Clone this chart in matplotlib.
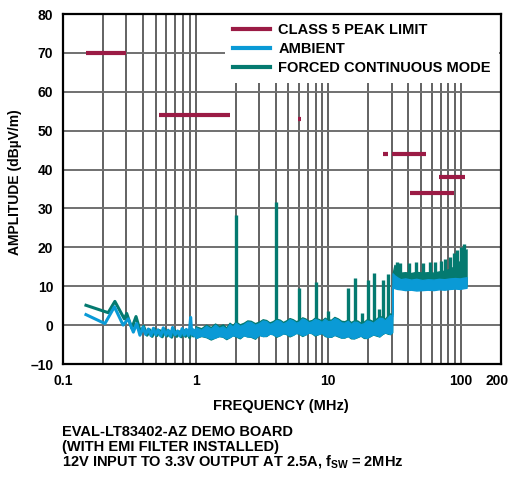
import matplotlib.pyplot as plt
from matplotlib.lines import Line2D
from matplotlib.transforms import ScaledTranslation

plt.rcParams['font.family'] = ['Liberation Sans', 'DejaVu Sans']
plt.rcParams['font.weight'] = 'bold'
plt.rcParams['mathtext.fontset'] = 'custom'
plt.rcParams['mathtext.rm'] = 'Liberation Sans:bold'
plt.rcParams['mathtext.it'] = 'Liberation Sans:bold'
plt.rcParams['mathtext.bf'] = 'Liberation Sans:bold'

LIMIT_COLOR = '#9b1b45'
AMB_COLOR = '#0a9ad6'
FRC_COLOR = '#047a70'
FS = 10.5

# class 5 peak limit segments (MHz, dBuV/m)
limit_start = [0.15, 0.53, 5.9, 26, 30, 41, 68]
limit_stop = [0.30, 1.8, 6.2, 28, 54, 88, 108]
limit_level = [70, 54, 53, 44, 44, 34, 38]

# low frequency sweep, ambient
amb_low_f = [0.149, 0.207, 0.244, 0.284, 0.310, 0.339, 0.359, 0.380, 0.402, 0.42, 0.44, 0.46,
             0.48, 0.50, 0.52, 0.545, 0.57, 0.595, 0.62, 0.645, 0.67, 0.70, 0.73, 0.76, 0.79,
             0.82, 0.85, 0.88, 0.90, 0.916, 0.935, 0.96, 0.985, 1.0]
amb_low_v = [2.7, 0.4, 4.7, 0.0, 1.6, -1.8, 0.4, -2.6, -0.5, -2.4, -1.0, -2.7,
             -0.8, -2.5, -1.2, -2.8, -0.7, -2.6, -1.3, -2.9, -0.6, -2.5, -1.5, -2.8, -0.9,
             -2.6, -1.1, -2.7, -1.0, 2.0, -2.4, -1.2, -2.8, -1.5]

# low frequency sweep, forced continuous mode
frc_low_f = [0.149, 0.219, 0.246, 0.290, 0.302, 0.330, 0.355, 0.385, 0.405, 0.43, 0.45, 0.47,
             0.49, 0.51, 0.535, 0.56, 0.585, 0.61, 0.635, 0.66, 0.69, 0.72, 0.75, 0.78, 0.81,
             0.84, 0.87, 0.90, 0.93, 0.96, 1.0]
frc_low_v = [5.1, 3.2, 6.1, 1.6, 3.0, -0.8, 2.2, -2.0, -0.3, -2.6, -1.2, -2.9,
             -1.0, -2.7, -1.4, -3.0, -1.1, -2.8, -1.6, -3.1, -1.2, -2.9, -1.7, -3.0, -1.3,
             -2.9, -1.5, -3.2, -1.6, -2.8, -1.8]

# 1 MHz to 110 MHz noise floor envelopes
band_f = [1.0, 1.1, 1.2, 1.3, 1.4, 1.5, 1.6, 1.7, 1.8, 1.9, 2.0, 2.15, 2.3, 2.45, 2.6, 2.8, 3.0,
          3.2, 3.4, 3.6, 3.8, 4.05, 4.3, 4.55, 4.8, 5.1, 5.4, 5.7, 6.0, 6.35, 6.7, 7.1, 7.5,
          7.9, 8.4, 8.9, 9.4, 9.9, 10.5, 11.1, 11.8, 12.5, 13.2, 14.0, 14.8, 15.6, 16.5,
          17.5, 18.5, 19.5, 20.5, 21.7, 23.0, 24.2, 25.5, 26.7, 28.0, 29.1, 30.2,
          30.5, 31.5, 33, 35, 38, 42, 46, 51, 56, 62, 68, 75, 82, 90, 98, 105, 110]
amb_top = [-0.6, -1.2, -0.2, -0.9, 0.1, -0.7, -0.3, -1.0, 0.3, -0.4, 0.6, -0.2, 0.2, 0.9, 0.8, 0.1, 0.5,
           1.2, 1.0, 0.3, 0.6, 1.3, 1.1, 0.4, 0.8, 1.5, 1.2, 0.6, 0.9, 1.7, 1.4, 0.7, 1.0,
           1.6, 1.3, 0.8, 1.6, 1.0, 1.1, 1.8, 1.4, 0.7, 0.6, 1.1, 0.3, 0.9, 0.8,
           0.2, 0.5, 1.2, 1.0, 0.6, 1.3, 1.9, 1.8, 1.2, 2.0, 2.6, 2.3,
           13.3, 12.8, 12.3, 11.8, 12.0, 11.7, 11.9, 11.6, 11.8, 11.7, 11.9, 11.8, 12.0, 12.1, 12.0, 12.2, 12.3]
amb_bot = [-3.3, -2.7, -3.0, -3.5, -3.2, -2.8, -2.9, -3.4, -3.1, -2.6, -2.8, -3.2, -2.6, -2.9, -2.9, -3.3, -2.5,
           -2.8, -2.7, -2.2, -2.3, -2.8, -2.6, -2.1, -2.2, -2.7, -2.5, -2.0, -2.1, -2.6, -2.4, -1.9, -2.0,
           -2.5, -2.3, -2.0, -2.6, -3.0, -2.9, -2.5, -2.7, -3.2, -3.1, -2.8, -3.2, -3.4, -3.0,
           -2.7, -3.1, -3.3, -2.8, -2.4, -2.5, -2.9, -2.2, -1.9, -2.0, -2.3, -1.8,
           9.8, 9.5, 9.3, 9.2, 9.0, 9.1, 8.9, 9.0, 9.1, 9.0, 9.2, 9.1, 9.3, 9.4, 9.3, 9.5, 9.6]
frc_top = [-0.3, -0.8, 0.1, -0.5, 0.4, -0.3, 0.2, -0.6, 0.6, 0.0, 0.9, 0.2, 0.6, 1.2, 1.1, 0.5, 0.9,
           1.5, 1.3, 0.7, 1.0, 1.6, 1.4, 0.8, 1.2, 1.8, 1.5, 1.0, 1.3, 2.0, 1.7, 1.1, 1.3,
           1.9, 1.6, 1.2, 1.9, 1.4, 1.4, 2.1, 1.7, 1.1, 1.0, 1.4, 0.8, 1.2, 1.2,
           0.6, 0.9, 1.5, 1.4, 1.0, 1.7, 2.3, 2.2, 1.6, 2.5, 3.0, 2.8,
           13.3, 15.5, 14.0, 13.5, 13.6, 13.4, 13.7, 13.5, 13.6, 13.5, 13.8, 14.0, 14.5, 15.2, 16.5, 18.0, 19.5]
frc_bot = [-3.3, -2.8, -3.1, -3.7, -3.2, -2.8, -3.0, -3.6, -3.1, -2.6, -2.9, -3.4, -2.6, -2.9, -3.0, -3.5, -2.5,
           -2.8, -2.8, -2.2, -2.3, -3.0, -2.6, -2.1, -2.3, -2.9, -2.5, -2.0, -2.2, -2.8, -2.4, -1.9, -2.1,
           -2.7, -2.3, -2.0, -2.8, -3.0, -3.0, -2.5, -2.9, -3.2, -3.2, -2.8, -3.4, -3.4, -3.1,
           -2.7, -3.3, -3.3, -2.9, -2.4, -2.7, -2.9, -2.3, -1.9, -2.2, -2.3, -1.9,
           10.0, 10.0, 10.0, 10.0, 10.0, 10.0, 10.0, 10.0, 10.0, 10.0, 10.0, 10.0, 10.0, 10.0, 10.0, 10.0, 10.0]

# switching harmonics in forced continuous mode
spike_f = [2, 4, 6, 8, 10, 14, 16, 18, 20, 22, 24, 26, 28,
           32.7, 34.9, 40.7, 46, 52, 58, 64, 70, 76, 82, 88, 94, 100, 106]
spike_peak = [28.3, 31.6, 9.5, 11.2, 3.7, 9.5, 12.0, 3.0, 11.6, 13.4, 4.1, 11.5, 13.1,
              16.3, 15.9, 16.0, 16.2, 16.0, 16.2, 16.3, 16.5, 17.0, 17.5, 18.5, 19.3, 20.2, 20.9]
spike_base = [0, 0, 0, 0, 0, 0, 0, 0, 0, 0, 0, 0, 0,
              12, 12, 12, 12, 12, 12, 12, 12, 12, 12, 12, 12, 12, 12]

x_ticks = [0.1, 1, 10, 100, 200]
x_ticklabels = ['0.1', '1', '10', '100', '200']
x_minor = [0.2, 0.3, 0.4, 0.5, 0.6, 0.7, 0.8, 0.9, 2, 3, 4, 5, 6, 7, 8, 9,
           20, 30, 40, 50, 60, 70, 80, 90]
y_ticks = [-10, 0, 10, 20, 30, 40, 50, 60, 70, 80]
y_ticklabels = ['\u201310', '0', '10', '20', '30', '40', '50', '60', '70', '80']

fig = plt.figure(figsize=(5.11, 4.79), dpi=100)
ax = fig.add_axes([63 / 511, 1 - 364 / 479, 438 / 511, 350 / 479])
ax.set_xscale('log')
ax.set_xlim(0.1, 200)
ax.set_ylim(-10, 80)

for f in x_minor + [1, 10, 100]:
    ax.axvline(f, color='#383838', lw=1.1, zorder=1)
for y in y_ticks:
    ax.axhline(y, color='#707070', lw=1.4, zorder=1)

# forced continuous mode (drawn under ambient)
ax.fill_between(band_f, frc_bot, frc_top, color=FRC_COLOR, lw=1.0, zorder=2)
ax.plot(frc_low_f, frc_low_v, color=FRC_COLOR, lw=2.2, zorder=2)
ax.vlines(spike_f, spike_base, spike_peak, color=FRC_COLOR, lw=2.4, zorder=2)

# ambient
ax.fill_between(band_f, amb_bot, amb_top, color=AMB_COLOR, lw=1.0, zorder=3)
ax.plot(amb_low_f, amb_low_v, color=AMB_COLOR, lw=2.2, zorder=3)

# limit
ax.hlines(limit_level, limit_start, limit_stop, color=LIMIT_COLOR, lw=3.0, zorder=4)

ax.set_xticks(x_ticks)
ax.set_xticklabels(x_ticklabels)
ax.set_xticks([], minor=True)
ax.set_yticks(y_ticks)
ax.set_yticklabels(y_ticklabels)
ax.tick_params(axis='both', which='both', length=0, pad=7, labelsize=10)
last = ax.get_xticklabels()[-1]
last.set_transform(last.get_transform() + ScaledTranslation(-3 / 72, 0, fig.dpi_scale_trans))
for s in ax.spines.values():
    s.set_linewidth(1.6)
    s.set_zorder(6)

handles = [Line2D([], [], color=LIMIT_COLOR, lw=3.0),
           Line2D([], [], color=AMB_COLOR, lw=3.0),
           Line2D([], [], color=FRC_COLOR, lw=3.0)]
labels = ['CLASS 5 PEAK LIMIT', 'AMBIENT', 'FORCED CONTINUOUS MODE']
leg = ax.legend(handles, labels, loc='upper right', bbox_to_anchor=(0.995, 0.997),
                frameon=True, fancybox=False, framealpha=1, facecolor='white',
                edgecolor='none', fontsize=FS, handlelength=2.5, handletextpad=0.6,
                labelspacing=0.35, borderpad=0.55, borderaxespad=0)

fig.text(15 / 511, 1 - 182 / 479, 'AMPLITUDE (dB\u00b5V/m)', rotation=90,
         ha='center', va='center', fontsize=10)
fig.text(281 / 511, 1 - 406 / 479, 'FREQUENCY (MHz)', ha='center', va='center', fontsize=FS)
fig.text(62 / 511, 1 - 432 / 479, 'EVAL-LT83402-AZ DEMO BOARD', ha='left', va='center', fontsize=FS)
fig.text(62 / 511, 1 - 446.5 / 479, '(WITH EMI FILTER INSTALLED)', ha='left', va='center', fontsize=FS)
fig.text(62 / 511, 1 - 461 / 479, '12V INPUT TO 3.3V OUTPUT AT 2.5A, $f_{SW}$ = 2MHz',
         ha='left', va='center', fontsize=FS)

fig.savefig('out.png', dpi=100)
